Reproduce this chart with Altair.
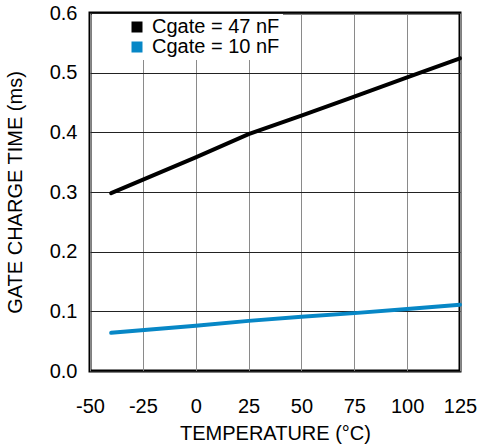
import altair as alt
import pandas as pd

temps = [-40, 0, 25, 50, 75, 100, 125]
cgate_47 = [0.298, 0.358, 0.397, 0.428, 0.460, 0.492, 0.524]
cgate_10 = [0.064, 0.076, 0.084, 0.091, 0.097, 0.104, 0.111]
series_names = ["Cgate = 47 nF", "Cgate = 10 nF"]
series_colors = ["#000000", "#0787c6"]
x_ticks = [-50, -25, 0, 25, 50, 75, 100, 125]
y_ticks = [0.0, 0.1, 0.2, 0.3, 0.4, 0.5, 0.6]

rows = []
for t, v in zip(temps, cgate_47):
    rows.append({"T": t, "V": v, "S": series_names[0]})
for t, v in zip(temps, cgate_10):
    rows.append({"T": t, "V": v, "S": series_names[1]})
df = pd.DataFrame(rows)

FONT = "Liberation Sans"

x_enc = alt.X("T:Q", scale=alt.Scale(domain=[-50, 125], nice=False, zero=False),
              axis=alt.Axis(values=x_ticks, title="TEMPERATURE (°C)", grid=True,
                            gridColor="#8a8a8a", gridWidth=1, ticks=False, domain=False,
                            labelExpr="'' + datum.value",
                            labelPadding=25, titlePadding=7, labelFlush=False))
y_enc = alt.Y("V:Q", scale=alt.Scale(domain=[0, 0.6], nice=False),
              axis=alt.Axis(values=y_ticks, format=".1f", title="GATE CHARGE TIME (ms)",
                            grid=True, gridColor="#222222", gridWidth=1, ticks=False,
                            domain=False, labelPadding=13, titlePadding=24, labelFlush=False))
color_enc = alt.Color("S:N", scale=alt.Scale(domain=series_names, range=series_colors),
                      sort=series_names,
                      legend=alt.Legend(title=None, orient="none", legendX=2, legendY=1,
                                        symbolType="square", symbolSize=121,
                                        symbolStrokeWidth=0, symbolOffset=32,
                                        labelFontSize=20, labelFont=FONT, labelColor="#000",
                                        labelExpr="datum.label + '\u00a0\u00a0\u00a0\u00a0\u00a0\u00a0\u00a0\u00a0\u00a0\u00a0'",
                                        labelOffset=5, fillColor="white", padding=3,
                                        rowPadding=-1, labelLimit=400))

base = alt.Chart(df)
squares = base.mark_square(size=0, filled=True, opacity=1).encode(x=x_enc, y=y_enc, color=color_enc)
lines = base.mark_line(strokeWidth=4, strokeCap="round").encode(x=x_enc, y=y_enc, color=color_enc)

chart = alt.layer(squares, lines).properties(
    width=370, height=358,
    autosize=alt.AutoSizeParams(type="none"),
    padding={"left": 90, "top": 13, "right": 19, "bottom": 77},
    background="white",
).configure_view(
    stroke="black", strokeWidth=3
).configure_axis(
    labelFont=FONT, labelFontSize=20, labelColor="#000",
    titleFont=FONT, titleFontSize=20, titleColor="#000", titleFontWeight="normal",
)

chart.save("out.html", embed_options={"renderer": "svg", "actions": False})
